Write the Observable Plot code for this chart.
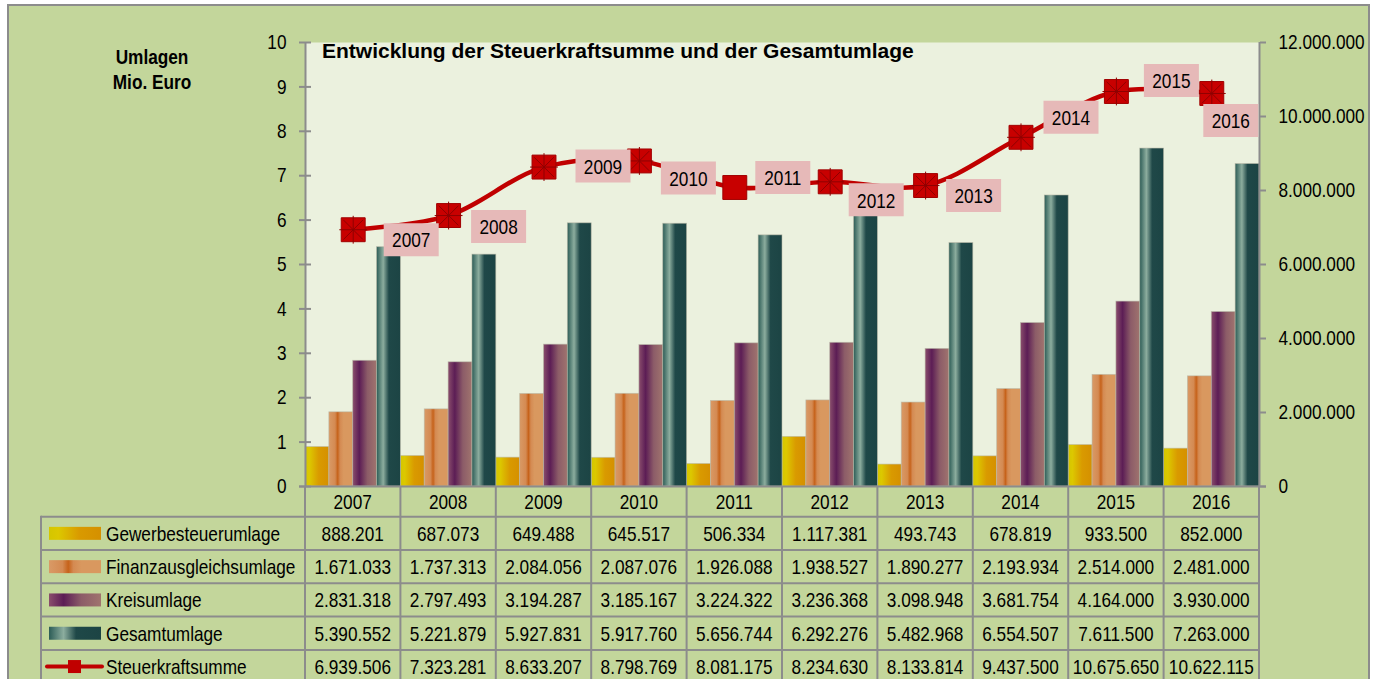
<!DOCTYPE html>
<html>
<head>
<meta charset="utf-8">
<script src="https://cdn.jsdelivr.net/npm/d3@7"></script>
<script src="https://cdn.jsdelivr.net/npm/@observablehq/plot@0.6"></script>
<style>
  html, body { margin: 0; padding: 0; background: #fff; }
  #wrap { position: relative; width: 1381px; height: 679px; overflow: hidden; background: #fff; }
  #panel { position: absolute; left: 7px; top: 4px; width: 1363px; height: 720px; border: 2px solid #8c8c8c; box-sizing: border-box; background: #c3d69b; }
  #chart { position: absolute; left: 0; top: 0; }
  .txt { position: absolute; font-family: "Liberation Sans", Arial, sans-serif; color: #000; white-space: nowrap; }
  #title { left: 322px; top: 40px; font-size: 21px; line-height: 21.5px; font-weight: bold; }
  #ylab { left: 92px; top: 43.5px; width: 120px; text-align: center; font-size: 21px; line-height: 25px; font-weight: bold; transform: scaleX(0.82); transform-origin: 60px 0; }
</style>
</head>
<body>
<div id="wrap">
  <div id="panel"></div>
  <div id="chart"></div>
  <div id="title" class="txt">Entwicklung der Steuerkraftsumme und der Gesamtumlage</div>
  <div id="ylab" class="txt">Umlagen<br>Mio. Euro</div>
</div>
<script>
// ---------------- data ----------------
const years = [2007, 2008, 2009, 2010, 2011, 2012, 2013, 2014, 2015, 2016];
const gewerbesteuerumlage    = [888201, 687073, 649488, 645517, 506334, 1117381, 493743, 678819, 933500, 852000];
const finanzausgleichsumlage = [1671033, 1737313, 2084056, 2087076, 1926088, 1938527, 1890277, 2193934, 2514000, 2481000];
const kreisumlage            = [2831318, 2797493, 3194287, 3185167, 3224322, 3236368, 3098948, 3681754, 4164000, 3930000];
const gesamtumlage           = [5390552, 5221879, 5927831, 5917760, 5656744, 6292276, 5482968, 6554507, 7611500, 7263000];
const steuerkraftsumme       = [6939506, 7323281, 8633207, 8798769, 8081175, 8234630, 8133814, 9437500, 10675650, 10622115];
const seriesNames = ["Gewerbesteuerumlage", "Finanzausgleichsumlage", "Kreisumlage", "Gesamtumlage", "Steuerkraftsumme"];
const leftTicks  = [0, 1, 2, 3, 4, 5, 6, 7, 8, 9, 10];
const rightTicks = [0, 2000000, 4000000, 6000000, 8000000, 10000000, 12000000];

// ---------------- layout / style ----------------
const FONT = '"Liberation Sans", Arial, sans-serif';
const NARROW = 0.82; // Arial Narrow look
const W = 1381, H = 679;
const GRID = "#8c8c8c";
// label box offsets (px) relative to each marker
const labelOffsets = [[58,10],[50,11],[59,-1],[49,17],[48,-10],[46,18],[48,10],[50,-20],[55,-11],[19,27]];
const gradients = {
  gGew: [[0,"#d4c600"],[0.18,"#dcc800"],[0.58,"#d99a00"],[1,"#d59000"]],
  gFin: [[0,"#d99a66"],[0.26,"#d48a52"],[0.37,"#c6621a"],[0.47,"#d48a52"],[0.62,"#d9985f"],[1,"#d9985f"]],
  gKre: [[0,"#8a4e6c"],[0.28,"#5c1d55"],[0.62,"#8c5c68"],[1,"#a0746e"]],
  gGes: [[0,"#2c5c56"],[0.28,"#8cad9e"],[0.52,"#1f4848"],[1,"#1c4444"]]
};
const barSeries = [
  {values: gewerbesteuerumlage, grad: "gGew"},
  {values: finanzausgleichsumlage, grad: "gFin"},
  {values: kreisumlage, grad: "gKre"},
  {values: gesamtumlage, grad: "gGes"}
];

const de = d3.formatLocale({decimal: ",", thousands: ".", grouping: [3], currency: ["", " €"]});
const fmt = de.format(",d");
const toMio = v => v / 1e6;          // left axis, Mio. Euro
const toLeft = v => v / 1.2e6;       // right axis 12.000.000 <-> left 10

const lineData = years.map((y, i) => ({year: y, i, v: steuerkraftsumme[i]}));
const boxSymbol = { draw(ctx) { ctx.rect(-27.5, -16.5, 55, 33); } };

const marks = [
  Plot.frame({fill: "#ebf1de", stroke: "none"}),
  ...barSeries.map((s, si) => Plot.rect(years.map((y, i) => ({i, v: s.values[i]})), {
    x1: d => d.i + si / 4,
    x2: d => d.i + (si + 1) / 4,
    y1: 0,
    y2: d => toMio(d.v),
    fill: `url(#${s.grad})`,
    stroke: "#b9b9a8",
    strokeWidth: 0.8,
    strokeOpacity: 0.7
  })),
  Plot.ruleX([0, 10], {stroke: GRID, strokeWidth: 2}),
  Plot.ruleY([0], {stroke: GRID, strokeWidth: 2, insetLeft: -6, insetRight: -7}),
  Plot.axisY({anchor: "left", ticks: leftTicks, tickSize: 6, tickPadding: 13, stroke: GRID, strokeWidth: 2, fill: "#000", label: null}),
  Plot.axisY({anchor: "left", ticks: leftTicks, tickSize: -6, tickFormat: () => "", stroke: GRID, strokeWidth: 2, label: null}),
  Plot.axisY({anchor: "right", ticks: rightTicks.map(toLeft), tickFormat: v => fmt(Math.round(v * 1.2e6)), tickSize: 6, tickPadding: 13, stroke: GRID, strokeWidth: 2, fill: "#000", label: null}),
  Plot.line(lineData, {x: d => d.i + 0.5, y: d => toLeft(d.v), stroke: "#c00000", strokeWidth: 4.5, curve: "catmull-rom"}),
  Plot.dot(lineData, {x: d => d.i + 0.5, y: d => toLeft(d.v), symbol: "square", r: 13.5, fill: "#c80000", stroke: "#a00000", strokeWidth: 1}),
  Plot.dot(lineData.filter(d => d.year !== 2011), {x: d => d.i + 0.5, y: d => toLeft(d.v), symbol: "times", r: 9, stroke: "#8e0000", strokeWidth: 1}),
  Plot.dot(lineData.filter(d => d.year !== 2011), {x: d => d.i + 0.5, y: d => toLeft(d.v), symbol: "plus", r: 9, stroke: "#8e0000", strokeWidth: 1}),
  ...lineData.flatMap((d, k) => [
    Plot.dot([d], {x: d => d.i + 0.5, y: d => toLeft(d.v), symbol: boxSymbol, fill: "#e6b9b8", stroke: "none", dx: labelOffsets[k][0], dy: labelOffsets[k][1]}),
    Plot.text([d], {x: d => d.i + 0.5, y: d => toLeft(d.v), text: d => String(d.year), fill: "#000", fontSize: 21, dx: labelOffsets[k][0], dy: labelOffsets[k][1] + 1})
  ])
];

const plot = Plot.plot({
  width: W,
  height: H,
  marginLeft: 305,
  marginRight: 122,
  marginTop: 42,
  marginBottom: 193,
  x: {type: "linear", domain: [0, years.length], axis: null},
  y: {domain: [0, 10], axis: null},
  style: {background: "transparent", fontFamily: FONT, fontSize: "21px", color: "#000", overflow: "visible"},
  marks
});

document.getElementById("chart").appendChild(plot);

// gradient definitions
const svg = d3.select(plot);
const defs = svg.insert("defs", ":first-child");
for (const [id, stops] of Object.entries(gradients)) {
  const g = defs.append("linearGradient").attr("id", id).attr("x1", 0).attr("x2", 1).attr("y1", 0).attr("y2", 0);
  for (const [o, c] of stops) g.append("stop").attr("offset", o).attr("stop-color", c);
}

// ---------------- data table below the chart ----------------
const X = plot.scale("x"), Y = plot.scale("y");
const colEdges = d3.range(years.length + 1).map(i => X.apply(i));
const top0 = Y.apply(0);
const headH = 30.7, rowH = 33.3, tableLeft = 41;
const rowEdges = [top0, top0 + headH, ...d3.range(1, 6).map(k => top0 + headH + k * rowH)];
const tbl = svg.append("g").attr("font-family", FONT).attr("font-size", 21).attr("fill", "#000");

// grid lines
for (let r = 1; r < rowEdges.length; r++) {
  tbl.append("line").attr("x1", tableLeft).attr("x2", colEdges[colEdges.length - 1])
    .attr("y1", rowEdges[r]).attr("y2", rowEdges[r]).attr("stroke", GRID).attr("stroke-width", 2);
}
tbl.append("line").attr("x1", tableLeft).attr("x2", tableLeft).attr("y1", rowEdges[1] - 1).attr("y2", H + 10)
  .attr("stroke", GRID).attr("stroke-width", 2);
colEdges.forEach(x => tbl.append("line").attr("x1", x).attr("x2", x).attr("y1", top0).attr("y2", H + 10)
  .attr("stroke", GRID).attr("stroke-width", 2));

// year header
years.forEach((y, i) => tbl.append("text").attr("x", X.apply(i + 0.5)).attr("y", (rowEdges[0] + rowEdges[1]) / 2)
  .attr("dy", "0.35em").attr("text-anchor", "middle").text(y));

// rows
const rowValues = [gewerbesteuerumlage, finanzausgleichsumlage, kreisumlage, gesamtumlage, steuerkraftsumme];
rowValues.forEach((vals, r) => {
  const cy = (rowEdges[r + 1] + rowEdges[r + 2]) / 2;
  vals.forEach((v, i) => tbl.append("text").attr("x", X.apply(i + 0.5)).attr("y", cy)
    .attr("dy", "0.35em").attr("text-anchor", "middle").text(fmt(v)));
  tbl.append("text").attr("x", 106).attr("y", cy).attr("dy", "0.35em").attr("text-anchor", "start").text(seriesNames[r]);
  if (r < 4) {
    tbl.append("rect").attr("x", 49).attr("y", cy - 6.5).attr("width", 52).attr("height", 13)
      .attr("fill", `url(#${barSeries[r].grad})`);
  } else {
    tbl.append("line").attr("x1", 47).attr("x2", 102).attr("y1", cy).attr("y2", cy)
      .attr("stroke", "#c00000").attr("stroke-width", 4).attr("stroke-linecap", "round");
    tbl.append("rect").attr("x", 68).attr("y", cy - 6.5).attr("width", 13).attr("height", 13).attr("fill", "#c00000");
  }
});

// narrow the glyphs (Arial Narrow look) around each text's own anchor point
svg.selectAll("text").each(function () {
  const t = d3.select(this);
  const x = +t.attr("x") || 0, y = +t.attr("y") || 0;
  const T = t.attr("transform") || "";
  t.attr("transform", `${T} translate(${x},${y}) scale(${NARROW},1) translate(${-x},${-y})`);
});
</script>
</body>
</html>
